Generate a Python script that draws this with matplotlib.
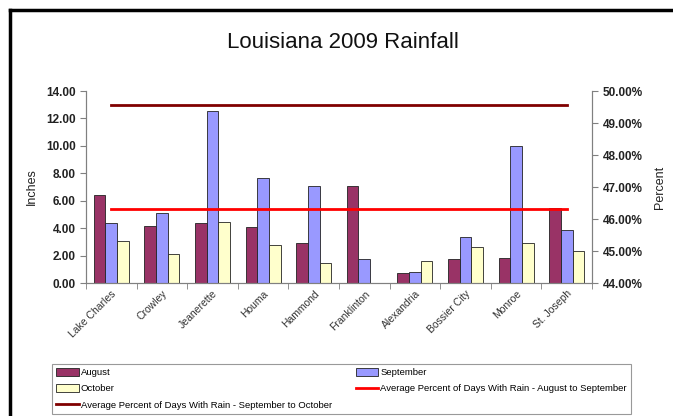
import matplotlib
matplotlib.use("Agg")
import matplotlib.pyplot as plt
import numpy as np
from matplotlib.lines import Line2D
from matplotlib.ticker import FuncFormatter, FixedLocator

plt.rcParams['font.family'] = ['Liberation Sans', 'DejaVu Sans']

cities = ["Lake Charles", "Crowley", "Jeanerette", "Houma", "Hammond",
          "Franklinton", "Alexandria", "Bossier City", "Monroe", "St. Joseph"]
august = [6.42, 4.18, 4.35, 4.06, 2.90, 7.10, 0.75, 1.77, 1.82, 5.45]
september = [4.40, 5.08, 12.57, 7.66, 7.07, 1.75, 0.82, 3.38, 10.00, 3.87]
october = [3.06, 2.12, 4.43, 2.75, 1.48, 0.00, 1.63, 2.60, 2.90, 2.31]
avg_aug_sep = 46.31   # percent
avg_sep_oct = 49.56   # percent

fig = plt.figure(figsize=(6.73, 4.16), dpi=100)
W, H = 673, 416
ax = fig.add_axes([86 / W, 1 - 283 / H, (592 - 86) / W, (283 - 91) / H])
ax2 = ax.twinx()

x = np.arange(len(cities))
bw = 0.23
c_aug, c_sep, c_oct = "#993366", "#9999FF", "#FFFFCC"
ec = "#222222"
b1 = ax.bar(x - bw, august, bw, color=c_aug, edgecolor=ec, linewidth=0.6, label="August")
b2 = ax.bar(x, september, bw, color=c_sep, edgecolor=ec, linewidth=0.6, label="September")
b3 = ax.bar(x + bw, october, bw, color=c_oct, edgecolor=ec, linewidth=0.6, label="October")

l1, = ax2.plot(x, [avg_aug_sep] * len(x), color="#FF0000", lw=2.0,
               label="Average Percent of Days With Rain - August to September")
l2, = ax2.plot(x, [avg_sep_oct] * len(x), color="#800000", lw=2.0,
               label="Average Percent of Days With Rain - September to October")

ax.set_xlim(-0.5, len(cities) - 0.5)
ax.set_ylim(0, 14)
ax.set_yticks(np.arange(0, 15, 2))
ax.yaxis.set_major_formatter(FuncFormatter(lambda v, p: f"{v:.2f}"))
ax2.set_ylim(44, 50)
ax2.set_yticks(np.arange(44, 51, 1))
ax2.yaxis.set_major_formatter(FuncFormatter(lambda v, p: f"{v:.2f}%"))

ax.set_xticks(x)
ax.set_xticklabels(cities, rotation=45, ha="right", rotation_mode="anchor",
                   fontsize=7.5, color="#333333")
ax.tick_params(axis="x", which="major", length=0, pad=4)
ax.xaxis.set_minor_locator(FixedLocator(np.arange(-0.5, len(cities), 1)))
ax.tick_params(axis="x", which="minor", length=4, color="#808080", direction="out")

for a in (ax, ax2):
    a.spines["top"].set_visible(False)
    for s in ("left", "right", "bottom"):
        a.spines[s].set_color("#808080")
        a.spines[s].set_linewidth(0.8)
ax.tick_params(axis="y", length=4, color="#808080", labelsize=8.5, labelcolor="#222222")
ax2.tick_params(axis="y", length=4, color="#808080", labelsize=8.5, labelcolor="#222222")
for t in ax.get_yticklabels() + ax2.get_yticklabels():
    t.set_fontweight("bold")

ax.set_ylabel("Inches", fontsize=9, color="#222222", labelpad=6)
ax2.set_ylabel("Percent", fontsize=9, color="#222222", labelpad=8)

fig.text(343 / W, 1 - 42 / H, "Louisiana 2009 Rainfall", ha="center", va="center",
         fontsize=16, color="#111111")

handles = [b1, b3, l2, b2, l1]
labels = [h.get_label() for h in handles]
leg = fig.legend(handles, labels, ncol=2, loc="lower left",
                 bbox_to_anchor=(52 / W, 1 - 414 / H, (631 - 52) / W, (414 - 363) / H),
                 mode="expand", fontsize=6.8, frameon=True, fancybox=False,
                 edgecolor="#808080", handlelength=2.4, handleheight=0.9,
                 handletextpad=0.2, borderpad=0.45, labelspacing=0.75,
                 borderaxespad=0)
leg.get_frame().set_linewidth(0.8)

# outer chart border (left and top visible)
fig.add_artist(Line2D([10 / W, 10 / W], [0, 1 - 10 / H], color="black", lw=2.5,
                      transform=fig.transFigure))
fig.add_artist(Line2D([10 / W, 1], [1 - 10 / H, 1 - 10 / H], color="black", lw=2.5,
                      transform=fig.transFigure))

fig.savefig("out.png", dpi=100)
